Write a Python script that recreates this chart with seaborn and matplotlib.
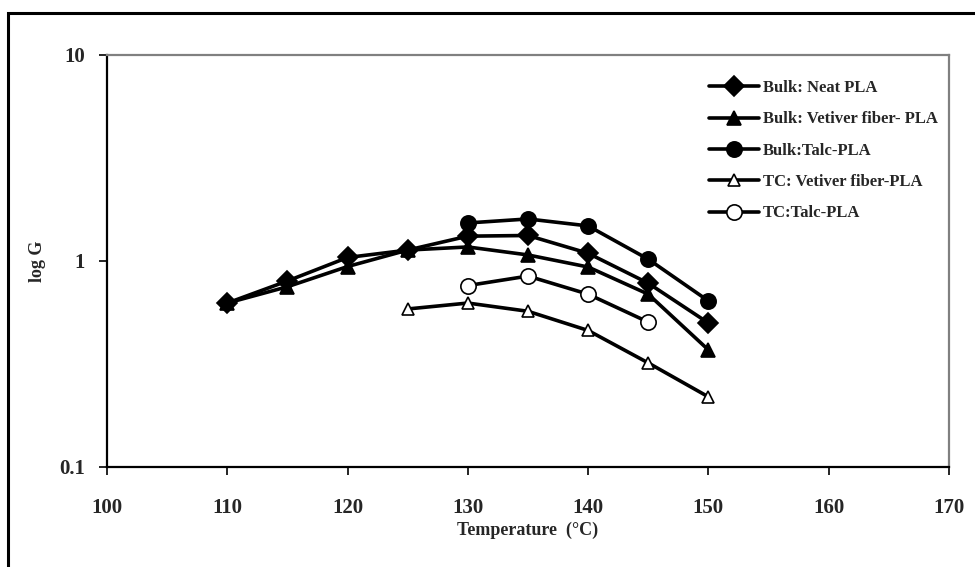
import matplotlib
matplotlib.use("Agg")
import matplotlib.pyplot as plt
import seaborn as sns
import pandas as pd
from matplotlib.patches import Rectangle
from matplotlib.ticker import FixedLocator, FixedFormatter, NullLocator

# Crystal growth rate vs. crystallization temperature
series_names = [
    "Bulk: Neat PLA",
    "Bulk: Vetiver fiber- PLA",
    "Bulk:Talc-PLA",
    "TC: Vetiver fiber-PLA",
    "TC:Talc-PLA",
]
temps_neat = [110, 115, 120, 125, 130, 135, 140, 145, 150]
g_neat = [0.625, 0.80, 1.04, 1.13, 1.32, 1.33, 1.09, 0.78, 0.50]

temps_vet = [110, 115, 120, 125, 130, 135, 140, 145, 150]
g_vet = [0.625, 0.75, 0.94, 1.13, 1.17, 1.07, 0.935, 0.69, 0.37]

temps_talc = [130, 135, 140, 145, 150]
g_talc = [1.53, 1.60, 1.48, 1.02, 0.64]

temps_tc_vet = [125, 130, 135, 140, 145, 150]
g_tc_vet = [0.585, 0.625, 0.57, 0.46, 0.32, 0.219]

temps_tc_talc = [130, 135, 140, 145]
g_tc_talc = [0.76, 0.845, 0.69, 0.505]

x_ticks = [100, 110, 120, 130, 140, 150, 160, 170]
y_ticks = [0.1, 1, 10]
y_tick_labels = ["0.1", "1", "10"]

sns.set_theme(style="white")
plt.rcParams["font.family"] = ["Liberation Serif", "DejaVu Serif"]
plt.rcParams["font.weight"] = "bold"

fig = plt.figure(figsize=(9.75, 5.67), dpi=100)
ax = fig.add_axes([107 / 975, 1 - 467 / 567, (949 - 107) / 975, (467 - 55) / 567])

# Outer frame around the whole chart
fig.patches.append(Rectangle((8 / 975, -0.05), 1.1, 1 - 13 / 567 + 0.05,
                             transform=fig.transFigure, fill=False,
                             edgecolor="black", linewidth=2.2, zorder=0))

frames = []
for name, t, g in [
    (series_names[0], temps_neat, g_neat),
    (series_names[1], temps_vet, g_vet),
    (series_names[2], temps_talc, g_talc),
    (series_names[3], temps_tc_vet, g_tc_vet),
    (series_names[4], temps_tc_talc, g_tc_talc),
]:
    frames.append(pd.DataFrame({"Temperature": t, "G": g, "Sample": name}))
df = pd.concat(frames, ignore_index=True)

styles = {
    series_names[0]: dict(marker="D", markersize=10, markerfacecolor="black"),
    series_names[1]: dict(marker="^", markersize=10, markerfacecolor="black"),
    series_names[2]: dict(marker="o", markersize=11, markerfacecolor="black"),
    series_names[3]: dict(marker="^", markersize=9, markerfacecolor="white"),
    series_names[4]: dict(marker="o", markersize=11, markerfacecolor="white"),
}

for name in series_names:
    sub = df[df["Sample"] == name]
    st = styles[name]
    sns.lineplot(data=sub, x="Temperature", y="G", ax=ax, color="black",
                 linewidth=2.6, label=name, marker=st["marker"],
                 markersize=st["markersize"],
                 markerfacecolor=st["markerfacecolor"],
                 markeredgecolor="black", markeredgewidth=1.2)

ax.set_yscale("log")
ax.set_xlim(100, 170)
ax.set_ylim(0.1, 10)
ax.xaxis.set_major_locator(FixedLocator(x_ticks))
ax.yaxis.set_major_locator(FixedLocator(y_ticks))
ax.yaxis.set_major_formatter(FixedFormatter(y_tick_labels))
ax.yaxis.set_minor_locator(NullLocator())

for lab in ax.get_xticklabels() + ax.get_yticklabels():
    lab.set_fontsize(15)
    lab.set_fontweight("bold")
ax.tick_params(axis="both", direction="out", length=6, width=1.2,
               color="black", left=True, bottom=True)
ax.tick_params(axis="y", pad=10)
ax.tick_params(axis="x", pad=16)

for side in ["left", "bottom"]:
    ax.spines[side].set_color("black")
    ax.spines[side].set_linewidth(1.6)
for side in ["top", "right"]:
    ax.spines[side].set_color("#808080")
    ax.spines[side].set_linewidth(1.6)

ax.set_xlabel("Temperature  (\u00b0C)", fontsize=13, fontweight="bold", labelpad=3)
ax.set_ylabel("log G", fontsize=13, fontweight="bold", labelpad=9)

leg = ax.legend(loc="upper left", bbox_to_anchor=(709 / 975, 1 - 80 / 567),
                bbox_transform=fig.transFigure, frameon=False,
                handlelength=3.0, handletextpad=0.25, labelspacing=0.92,
                borderaxespad=0, borderpad=0,
                prop={"family": "Liberation Serif", "weight": "bold", "size": 12})

fig.savefig("out.png", dpi=100, facecolor="white")
